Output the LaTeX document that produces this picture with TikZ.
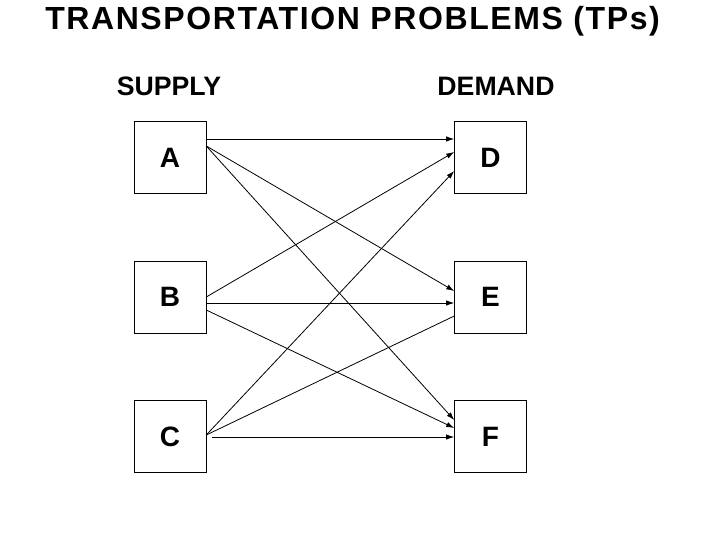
\documentclass[tikz,border=0pt]{standalone}
\usepackage{fontspec}
\setmainfont{Liberation Sans}
\usetikzlibrary{arrows.meta}
\begin{document}
\begin{tikzpicture}[x=0.75pt,y=-0.75pt,
  box/.style={draw,minimum width=54pt,minimum height=54pt,inner sep=0pt,font=\bfseries\fontsize{21}{24}\selectfont},
  arr/.style={-{Latex[length=6pt,width=4pt]},line width=0.6pt},
  ln/.style={line width=0.6pt}]
\useasboundingbox (0,0) rectangle (728,546);
\node[font=\bfseries\fontsize{24}{28}\selectfont\addfontfeature{LetterSpace=5},anchor=west,inner sep=0pt] (title) at (45,21) {TRANSPORTATION PROBLEMS (TPs)};
\node[font=\bfseries\fontsize{20}{24}\selectfont] (sup) at (169,86) {SUPPLY};
\node[font=\bfseries\fontsize{20}{24}\selectfont] (dem) at (496,86) {DEMAND};
\node[box] (A) at (170,157.5) {A};
\node[box] (B) at (170,297) {B};
\node[box] (C) at (170,436.5) {C};
\node[box] (D) at (490.5,157.5) {D};
\node[box] (E) at (490.5,297) {E};
\node[box] (F) at (490.5,436.5) {F};
\draw[arr] (A.east|-0,139) -- (D.west|-0,139);
\draw[arr] (A.east|-0,146) -- (E.west|-0,291);
\draw[arr] (A.east|-0,146) -- (F.west|-0,420);
\draw[arr] (B.east|-0,297) -- (D.west|-0,152);
\draw[arr] (B.east|-0,303) -- (E.west|-0,303);
\draw[arr] (B.east|-0,310) -- (F.west|-0,428);
\draw[arr] (C.east|-0,435) -- (D.west|-0,171);
\draw[ln] (C.east|-0,435) -- (E.west|-0,316);
\draw[arr] ([xshift=4.5pt]C.east|-0,437) -- (F.west|-0,437);
\end{tikzpicture}
\end{document}
